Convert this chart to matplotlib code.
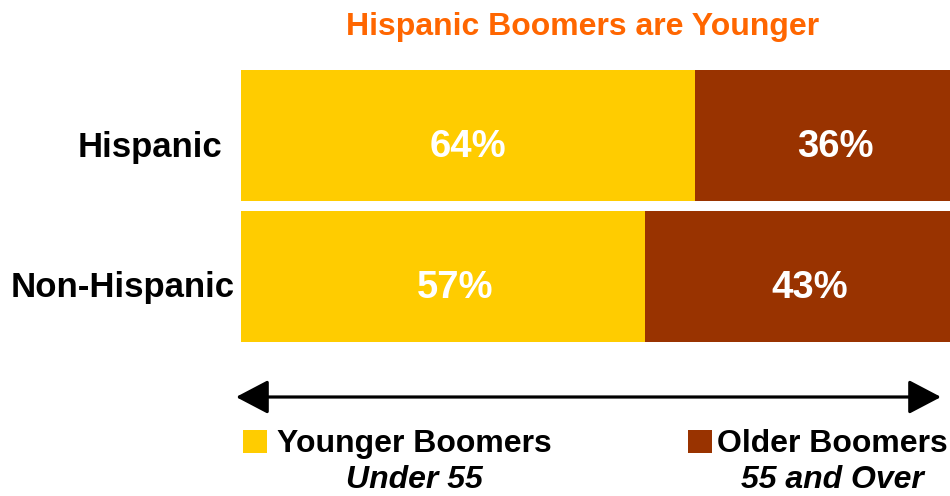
import matplotlib
matplotlib.use("Agg")
import matplotlib.pyplot as plt
from matplotlib.patches import FancyArrowPatch, Rectangle

# --- data -------------------------------------------------------------
groups = ["Hispanic", "Non-Hispanic"]
younger_pct = [64, 57]
older_pct = [36, 43]
title_text = "Hispanic Boomers are Younger"
legend_main = ["Younger Boomers", "Older Boomers"]
legend_sub = ["Under 55", "55 and Over"]

# --- style ------------------------------------------------------------
YELLOW = "#FFCC00"
BROWN = "#993300"
ORANGE = "#FF6600"
FONT = "Liberation Sans"

W, H, DPI = 950, 496, 100
fig = plt.figure(figsize=(W / DPI, H / DPI), dpi=DPI)
fig.patch.set_facecolor("white")


def fx(px):
    return px / W


def fy(py):
    return 1 - py / H


# bar area in pixel layout
bar_left, bar_right, bar_top, bar_bottom = 241, 950, 70, 342
ax = fig.add_axes([fx(bar_left), fy(bar_bottom),
                   fx(bar_right - bar_left), (bar_bottom - bar_top) / H])

ypos = [1, 0]                 # Hispanic on top
bar_h = 131 / 141             # bar thickness relative to spacing
ax.barh(ypos, younger_pct, height=bar_h, color=YELLOW, edgecolor="none")
ax.barh(ypos, older_pct, left=younger_pct, height=bar_h, color=BROWN,
        edgecolor="none")
ax.set_xlim(0, 100)
ax.set_ylim(-bar_h / 2, 1 + bar_h / 2)
ax.axis("off")

# percentage labels inside the segments
young_shift = [0, 12]
old_shift = [13, 12]
for i, y in enumerate(ypos):
    ax.annotate(f"{younger_pct[i]}%", xy=(younger_pct[i] / 2, y),
                xytext=(young_shift[i], -21), textcoords="offset pixels",
                ha="center", va="baseline", color="white",
                fontsize=27.5, fontweight="bold", family=FONT)
    ax.annotate(f"{older_pct[i]}%",
                xy=(younger_pct[i] + older_pct[i] / 2, y),
                xytext=(old_shift[i], -21), textcoords="offset pixels",
                ha="center", va="baseline", color="white",
                fontsize=27.5, fontweight="bold", family=FONT)

# category labels to the left of the bars
label_gap = [-19, -6]
for i, y in enumerate(ypos):
    ax.annotate(groups[i], xy=(0, y), xytext=(label_gap[i], -21),
                textcoords="offset pixels", ha="right", va="baseline",
                color="black", fontsize=25, fontweight="bold",
                family=FONT, annotation_clip=False)

# title
fig.text(fx(583), fy(35), title_text, ha="center", va="baseline",
         color=ORANGE, fontsize=23, fontweight="bold", family=FONT)

# double-headed arrow under the bars
arrow = FancyArrowPatch((fx(236), fy(397)), (fx(941), fy(397)),
                        transform=fig.transFigure,
                        arrowstyle="<|-|>,head_length=20,head_width=10.5",
                        mutation_scale=1, linewidth=2.3, color="black",
                        shrinkA=0, shrinkB=0)
fig.add_artist(arrow)

# legend: swatches with two-line captions
swatches = [(243, YELLOW), (688, BROWN)]
caption_center = [414, 832]
for (sx, col), cx, main, sub in zip(swatches, caption_center,
                                    legend_main, legend_sub):
    fig.add_artist(Rectangle((fx(sx), fy(453)), 24 / W, 23 / H,
                             transform=fig.transFigure, facecolor=col,
                             edgecolor="none"))
    fig.text(fx(cx), fy(452), main, ha="center", va="baseline",
             color="black", fontsize=23, fontweight="bold", family=FONT)
    fig.text(fx(cx), fy(488), sub, ha="center", va="baseline",
             color="black", fontsize=23, fontweight="bold",
             fontstyle="italic", family=FONT)

fig.savefig("out.png", dpi=DPI, facecolor="white")
